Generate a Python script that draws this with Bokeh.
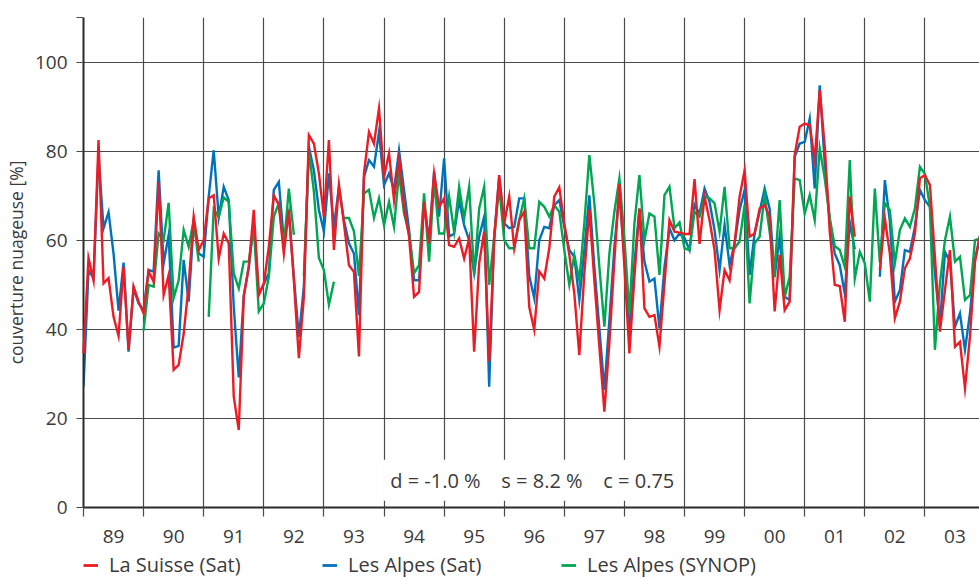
import numpy as np
from bokeh.plotting import figure
from bokeh.layouts import column
from bokeh.models import Range1d, FixedTicker, Label, Legend, LegendItem
from bokeh.embed import file_html
from bokeh.resources import INLINE

NA = np.nan

# Year labels (two digits), one per year 1989-2003
years = ["89", "90", "91", "92", "93", "94", "95", "96", "97", "98",
         "99", "00", "01", "02", "03"]

# Monthly cloud cover [%], Jan 1989 - Dec 2003
suisse_sat = [
    34.6, 56.0, 51.0, 82.5, 50.3, 51.5, 42.8, 38.5, 54.0, 35.4, 49.6, 46.2,
    43.6, 53.0, 50.7, 73.0, 47.7, 52.2, 30.9, 32.0, 39.0, 50.0, 65.3, 57.8,
    60.0, 69.4, 70.1, 55.9, 61.5, 59.3, 24.9, 17.4, 47.3, 54.0, 66.8, 47.7,
    50.2, 58.5, 70.1, 67.9, 57.0, 66.8, 51.0, 33.5, 47.3, 83.6, 81.7, 75.0,
    65.3, 82.5, 57.8, 72.4, 63.8, 54.4, 52.9, 33.9, 75.0, 84.3, 81.7, 89.6,
    74.2, 79.5, 69.0, 78.4, 67.5, 60.8, 47.3, 48.4, 68.6, 59.3, 75.0, 67.5,
    69.4, 58.9, 58.5, 60.4, 55.9, 60.4, 35.0, 54.8, 61.9, 32.8, 60.0, 74.6,
    63.8, 69.8, 58.2, 64.5, 66.4, 45.0, 39.9, 53.0, 51.4, 58.2, 69.8, 71.9,
    63.8, 56.7, 48.0, 34.2, 52.6, 66.8, 51.0, 36.1, 21.5, 37.0, 55.6, 72.6,
    54.0, 34.6, 51.8, 67.1, 44.7, 42.8, 43.2, 36.1, 50.3, 64.5, 61.9, 61.7,
    61.4, 61.4, 73.7, 59.2, 69.8, 64.5, 57.8, 44.3, 53.3, 51.0, 59.3, 69.8,
    75.7, 60.8, 61.5, 67.1, 67.9, 65.3, 44.0, 56.7, 44.3, 46.2, 79.1, 85.5,
    86.2, 85.8, 78.0, 93.7, 81.0, 62.0, 50.0, 49.7, 41.7, 69.8, 60.8, NA,
    NA, NA, NA, 53.3, 64.9, 57.0, 42.5, 46.2, 53.7, 55.9, 61.5, 73.9,
    74.6, 72.4, 56.3, 39.5, 48.8, 57.8, 36.1, 37.2, 26.8, 38.4, 55.2, 61.0,
]
alpes_sat = [
    27.1, 53.3, 51.5, 79.0, 62.7, 66.3, 57.0, 44.2, 55.0, 35.0, 49.2, 45.8,
    44.3, 53.3, 53.0, 75.7, 54.8, 61.2, 35.9, 36.3, 55.6, 46.2, 63.8, 57.0,
    56.3, 69.8, 80.2, 65.2, 72.0, 69.0, 45.0, 29.2, 47.7, 54.0, 63.8, 48.0,
    50.2, 52.6, 71.3, 73.1, 60.0, 66.0, 51.8, 38.3, 49.6, 81.0, 75.7, 66.8,
    62.0, 75.0, 63.0, 72.0, 64.5, 59.3, 57.0, 43.2, 74.2, 78.0, 76.5, 84.3,
    72.4, 75.0, 71.3, 80.2, 71.3, 62.3, 51.0, 51.0, 68.3, 60.0, 75.4, 65.3,
    78.4, 60.8, 61.5, 69.0, 63.4, 60.0, 52.6, 60.8, 65.3, 27.1, 60.8, 74.2,
    63.8, 62.7, 63.0, 69.4, 69.4, 52.0, 47.0, 60.0, 63.0, 62.7, 67.9, 69.0,
    63.0, 57.8, 56.3, 46.6, 57.8, 70.1, 54.0, 40.2, 26.4, 42.1, 58.5, 70.5,
    56.3, 39.1, 54.8, 67.1, 55.2, 50.7, 51.4, 40.2, 54.0, 62.7, 60.0, 61.5,
    60.5, 57.8, 68.0, 66.0, 71.6, 68.6, 62.3, 53.3, 63.4, 54.4, 59.3, 66.8,
    71.3, 52.2, 61.5, 66.4, 71.6, 67.1, 51.8, 60.8, 47.3, 46.6, 78.7, 81.7,
    82.1, 87.3, 71.6, 94.8, 77.2, 64.5, 57.0, 54.4, 48.0, 64.0, 58.0, NA,
    NA, NA, NA, 51.8, 73.5, 64.3, 46.2, 48.8, 57.8, 57.4, 63.0, 71.3,
    69.0, 67.5, 52.6, 41.0, 57.4, 55.2, 40.6, 43.6, 35.4, 43.6, 55.6, 61.0,
]
alpes_synop = [
    NA, NA, NA, NA, NA, NA, NA, NA, NA, NA, NA, NA,
    39.7, 50.0, 49.6, 61.5, 60.0, 68.4, 47.0, 51.0, 62.3, 58.5, 64.5, 55.2,
    NA, 42.8, 67.0, 65.2, 69.6, 68.6, 52.6, 49.2, 55.2, 55.2, 63.0, 44.0,
    45.8, 51.8, 65.3, 68.3, 58.5, 71.6, 61.2, NA, 52.0, 80.0, 71.0, 56.0,
    53.3, 45.5, 50.7, NA, 65.0, 65.0, 62.0, 52.0, 70.5, 71.3, 65.0, 69.4,
    63.4, 68.6, 63.0, 75.0, 66.0, 61.5, 52.6, 54.4, 70.5, 55.2, 73.5, 61.5,
    61.5, 69.8, 61.9, 72.0, 64.9, 72.0, 52.2, 67.1, 72.0, 50.0, 60.8, 72.0,
    60.0, 58.2, 58.2, 64.5, 69.4, 58.2, 58.2, 68.6, 67.5, 65.3, 67.9, 66.4,
    57.8, 50.0, 56.7, 51.0, 63.8, 79.1, 68.3, 54.0, 40.6, 57.0, 66.4, 73.9,
    60.4, 43.6, 63.8, 74.6, 60.0, 66.0, 65.3, 52.2, 70.1, 72.0, 62.7, 64.0,
    58.2, 57.8, 66.4, 65.3, 69.8, 69.4, 68.3, 61.9, 72.0, 58.2, 58.2, 59.7,
    67.9, 45.8, 59.3, 60.8, 70.1, 61.9, 53.3, 69.0, 47.3, 51.8, 73.9, 73.5,
    66.0, 70.1, 64.5, 80.6, 73.9, 65.0, 58.7, 57.8, 54.0, 78.0, 51.4, 57.4,
    54.8, 46.2, 71.6, 55.0, 68.3, 66.8, 54.8, 62.3, 64.9, 63.0, 67.1, 76.5,
    74.9, 67.5, 35.4, 50.3, 60.0, 65.3, 55.2, 56.3, 46.6, 47.7, 60.0, 60.4,
]

series_names = ["La Suisse (Sat)", "Les Alpes (Sat)", "Les Alpes (SYNOP)"]
series_colors = ["#ED1C24", "#0072BC", "#00A651"]

months = np.arange(len(suisse_sat))          # months since Jan 1989
year_starts = list(range(0, 12 * len(years), 12))
year_mids = [s + 6 for s in year_starts]

FONT = "Open Sans"
TXT = "#3a3a3a"
GRID = "#4a4a4a"

p = figure(frame_width=897, frame_height=490,
           min_border_left=82, min_border_right=0, min_border_top=17,
           min_border_bottom=44,
           x_range=Range1d(0, 179.1), y_range=Range1d(0, 110),
           output_backend="svg", toolbar_location=None)
p.outline_line_color = None
p.background_fill_color = "white"
p.border_fill_color = "white"

# grid
p.xgrid.ticker = FixedTicker(ticks=year_starts)
p.ygrid.ticker = FixedTicker(ticks=[20, 40, 60, 80, 100, 110])
for g in (p.xgrid, p.ygrid):
    g.grid_line_color = GRID
    g.grid_line_width = 1.2

# y axis
ya = p.yaxis[0]
ya.ticker = FixedTicker(ticks=[0, 20, 40, 60, 80, 100, 110])
ya.major_label_overrides = {110: ""}
ya.major_tick_out = 7
ya.major_tick_in = 0
ya.major_tick_line_color = GRID
ya.major_tick_line_width = 1.2
ya.axis_line_color = "#2a2a2a"
ya.axis_line_width = 2
ya.major_label_standoff = 9
ya.major_label_text_font = FONT
ya.major_label_text_font_size = "19px"
ya.major_label_text_color = TXT
ya.axis_label = "couverture nuageuse [%]"
ya.axis_label_text_font = FONT
ya.axis_label_text_font_size = "17.5px"
ya.axis_label_text_font_style = "normal"
ya.axis_label_text_color = TXT
ya.axis_label_standoff = 4

# x axis: labels centred in each year, ticks at year boundaries
xa = p.xaxis[0]
xa.ticker = FixedTicker(ticks=year_mids, minor_ticks=year_starts)
xa.major_label_overrides = {m: y for m, y in zip(year_mids, years)}
xa.major_tick_out = 0
xa.major_tick_in = 0
xa.minor_tick_out = 9
xa.minor_tick_in = 0
xa.minor_tick_line_color = GRID
xa.minor_tick_line_width = 1.2
xa.axis_line_color = "#2a2a2a"
xa.axis_line_width = 2
xa.major_label_standoff = 13
xa.major_label_text_font = FONT
xa.major_label_text_font_size = "19px"
xa.major_label_text_color = TXT

renderers = []
for ys, col in zip([suisse_sat, alpes_sat, alpes_synop], series_colors):
    r = p.line(months, np.array(ys, dtype=float), line_color=col,
               line_width=2.4, line_join="miter")
    renderers.append(r)

# red on top of the other two series
renderers[0].level = "overlay"

gap = "\u00a0" * 4
stats = Label(x=89.6, y=6.1, x_units="data", y_units="data",
              text=f"d = -1.0\u00a0%{gap}s = 8.2\u00a0%{gap}c = 0.75",
              text_align="center", text_baseline="middle",
              text_font=FONT, text_font_size="20px", text_color=TXT,
              background_fill_color="white", background_fill_alpha=1.0,
              padding=7)
p.add_layout(stats)

# legend strip underneath the chart; its key lines hold no visible points
leg_fig = figure(width=979, height=27, min_border=0,
                 x_range=Range1d(0, 1), y_range=Range1d(0, 1),
                 x_axis_type=None, y_axis_type=None,
                 output_backend="svg", toolbar_location=None)
leg_fig.outline_line_color = None
leg_fig.xgrid.visible = False
leg_fig.ygrid.visible = False
keys = [leg_fig.line([NA], [NA], line_color=c, line_width=2.8)
        for c in series_colors]
legend = Legend(items=[LegendItem(label=n, renderers=[k])
                       for n, k in zip(series_names, keys)],
                orientation="horizontal", location=(0, 0),
                label_text_font=FONT, label_text_font_size="20px",
                label_text_color=TXT, glyph_width=15, glyph_height=22,
                label_height=22,
                label_standoff=11, label_width=200, spacing=13,
                padding=0, margin=0, border_line_alpha=0,
                background_fill_alpha=0)
leg_fig.add_layout(legend)

open("out.html", "w").write(file_html(column(p, leg_fig, spacing=0), INLINE))
